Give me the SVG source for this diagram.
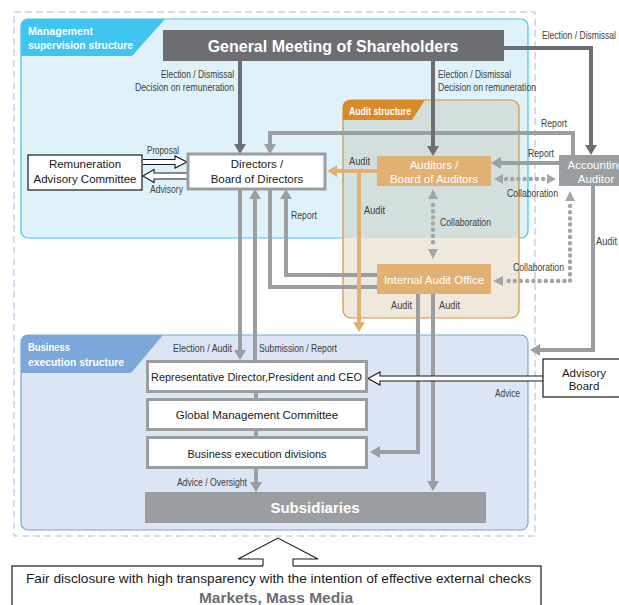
<svg xmlns="http://www.w3.org/2000/svg" width="619" height="605" viewBox="0 0 619 605">
<style>
.lb{font-family:"Liberation Sans",Arial,sans-serif;font-size:11px;fill:#3d3d3d}
.bt{font-family:"Liberation Sans",Arial,sans-serif;font-size:11.5px;fill:#1a1a1a;text-anchor:middle}
.wt{font-family:"Liberation Sans",Arial,sans-serif;font-size:11.5px;fill:#ffffff;text-anchor:middle}
.tab{font-family:"Liberation Sans",Arial,sans-serif;font-size:11.5px;font-weight:bold;fill:#ffffff}
.gbox{fill:#ffffff;stroke:#9a9ea1;stroke-width:3}
.kbox{fill:#ffffff;stroke:#1a1a1a;stroke-width:1.2}
.ob{fill:#e1b174}
.dk{fill:none;stroke:#6d6e71;stroke-width:4;marker-end:url(#mDark)}
.gr{fill:none;stroke:#9b9fa2;stroke-width:4}
.gra{marker-end:url(#mGray)}
.or{fill:none;stroke:#e1b174;stroke-width:4}
.ora{marker-end:url(#mOrange)}
.dot{fill:none;stroke:#a3a6a9;stroke-width:4.5;stroke-linecap:round;stroke-dasharray:0 6.2}
.tri{fill:#a3a6a9}
.hol{fill:#ffffff;stroke:#1a1a1a;stroke-width:1.1}
</style>
<defs>
<marker id="mDark" markerUnits="userSpaceOnUse" markerWidth="11" markerHeight="12" refX="1" refY="6" orient="auto"><path d="M0,0 L10,6 L0,12 Z" fill="#6d6e71"/></marker>
<marker id="mGray" markerUnits="userSpaceOnUse" markerWidth="11" markerHeight="12" refX="1" refY="6" orient="auto"><path d="M0,0 L10,6 L0,12 Z" fill="#9b9fa2"/></marker>
<marker id="mOrange" markerUnits="userSpaceOnUse" markerWidth="11" markerHeight="12" refX="1" refY="6" orient="auto"><path d="M0,0 L10,6 L0,12 Z" fill="#e1b174"/></marker>
</defs>
<rect width="619" height="605" fill="#ffffff"/>
<rect x="14" y="12" width="521" height="524" fill="none" stroke="#a9bce0" stroke-width="1" stroke-dasharray="7 4"/>

<g id="mgmt-structure">
<rect x="21" y="19" width="507" height="219" rx="7" fill="#dff2fa" stroke="#3cc4ef" stroke-width="1.2"/>
<path d="M21,56 V26 Q21,19 28,19 H165 L132,56 Z" fill="#40c4f0"/>
<text class="tab" x="28" y="35" textLength="65" lengthAdjust="spacingAndGlyphs">Management</text>
<text class="tab" x="28" y="49" textLength="105" lengthAdjust="spacingAndGlyphs">supervision structure</text>
</g>

<g id="audit-structure">
<rect x="343" y="100" width="176" height="218" rx="8" fill="#efe8dc"/>
<path d="M343,238 V108 Q343,100 351,100 H511 Q519,100 519,108 V238 Z" fill="#d3dfdc"/>
<rect x="343" y="100" width="176" height="218" rx="8" fill="none" stroke="#d6913d" stroke-width="1.2"/>
<path d="M343,120 V107 Q343,100 350,100 H425 L412,120 Z" fill="#d98b2b"/>
<text class="tab" x="349" y="115" style="font-size:10.5px" textLength="62" lengthAdjust="spacingAndGlyphs">Audit structure</text>
</g>

<g id="business-structure">
<rect x="21" y="335" width="507" height="195" rx="7" fill="#dbe5f3" stroke="#79a6dc" stroke-width="1.2"/>
<path d="M21,373 V342 Q21,335 28,335 H163 L131,373 Z" fill="#7ba7da"/>
<text class="tab" x="28" y="351" textLength="42" lengthAdjust="spacingAndGlyphs">Business</text>
<text class="tab" x="28" y="366" textLength="96" lengthAdjust="spacingAndGlyphs">execution structure</text>
</g>

<g id="connectors">
<path class="gr gra" d="M573,155 V133 H270 V145"/>
<path class="gr gra" d="M559,163 H500"/>
<path class="gr gra" d="M593,186 V350 H539"/>
<path class="gr gra" d="M377,275 H286 V198"/>
<path class="gr" d="M377,287 H270 V189"/>
<path class="gr gra" d="M240,189 V351"/>
<path class="gr gra" d="M255,361 V198"/>
<path class="gr" d="M256,392 V398 M256,430 V437"/>
<path class="gr gra" d="M256,468 V483"/>
<path class="gr gra" d="M418,294 V452 H379"/>
<path class="gr gra" d="M433,294 V482"/>
<path class="dk" d="M240,61 V145"/>
<path class="dk" d="M433,61 V147"/>
<path class="dk" d="M504,48 H591 V146"/>
<path class="or ora" d="M377,171 H336"/>
<path class="or ora" d="M359,171 V323"/>
<path class="dot" d="M506,179 H545"/>
<path class="tri" d="M494,179 L503,174 L503,184 Z M556,179 L547,174 L547,184 Z"/>
<path class="dot" d="M433,205 V244"/>
<path class="tri" d="M433,189 L428,199 L438,199 Z M433,259 L428,249 L438,249 Z"/>
<path class="dot" d="M570,206 V281 H507"/>
<path class="tri" d="M570,191 L565,201 L575,201 Z M493,281 L503,276 L503,286 Z"/>
<path class="hol" d="M143,159.5 H175 V156 L187,162 L175,168 V164.5 H143"/>
<path class="hol" d="M188,173 H154 V169.5 L143,176 L154,182.5 V179 H188"/>
<path class="hol" d="M543,376 H380 V372 L368,378.5 L380,385 V381 H543"/>
<text class="lb" x="161" y="78" textLength="73" lengthAdjust="spacingAndGlyphs">Election / Dismissal</text>
<text class="lb" x="135" y="91" textLength="99" lengthAdjust="spacingAndGlyphs">Decision on remuneration</text>
<text class="lb" x="438" y="78" textLength="73" lengthAdjust="spacingAndGlyphs">Election / Dismissal</text>
<text class="lb" x="438" y="91" textLength="98" lengthAdjust="spacingAndGlyphs">Decision on remuneration</text>
<text class="lb" x="542" y="39" textLength="74" lengthAdjust="spacingAndGlyphs">Election / Dismissal</text>
<text class="lb" x="541" y="127" textLength="26" lengthAdjust="spacingAndGlyphs">Report</text>
<text class="lb" x="528" y="157" textLength="26" lengthAdjust="spacingAndGlyphs">Report</text>
<text class="lb" x="507" y="197" textLength="51" lengthAdjust="spacingAndGlyphs">Collaboration</text>
<text class="lb" x="440" y="226" textLength="51" lengthAdjust="spacingAndGlyphs">Collaboration</text>
<text class="lb" x="513" y="271" textLength="51" lengthAdjust="spacingAndGlyphs">Collaboration</text>
<text class="lb" x="596" y="245" textLength="21" lengthAdjust="spacingAndGlyphs">Audit</text>
<text class="lb" x="349" y="165" textLength="21" lengthAdjust="spacingAndGlyphs">Audit</text>
<text class="lb" x="364" y="214" textLength="21" lengthAdjust="spacingAndGlyphs">Audit</text>
<text class="lb" x="291" y="219" textLength="26" lengthAdjust="spacingAndGlyphs">Report</text>
<text class="lb" x="147" y="154" textLength="32" lengthAdjust="spacingAndGlyphs">Proposal</text>
<text class="lb" x="150" y="193" textLength="33" lengthAdjust="spacingAndGlyphs">Advisory</text>
<text class="lb" x="391" y="309" textLength="21" lengthAdjust="spacingAndGlyphs">Audit</text>
<text class="lb" x="439" y="309" textLength="21" lengthAdjust="spacingAndGlyphs">Audit</text>
<text class="lb" x="173" y="352" textLength="59" lengthAdjust="spacingAndGlyphs">Election / Audit</text>
<text class="lb" x="259" y="352" textLength="78" lengthAdjust="spacingAndGlyphs">Submission / Report</text>
<text class="lb" x="495" y="397" textLength="25" lengthAdjust="spacingAndGlyphs">Advice</text>
<text class="lb" x="177" y="486" textLength="70" lengthAdjust="spacingAndGlyphs">Advice / Oversight</text>
</g>

<g id="gms">
<rect x="163" y="30" width="341" height="31" fill="#6d6e71"/>
<text x="333" y="52" text-anchor="middle" style="font-family:'Liberation Sans',Arial,sans-serif;font-size:16px;font-weight:bold;fill:#ffffff">General Meeting of Shareholders</text>
</g>
<g id="remuneration">
<rect class="kbox" x="28" y="155" width="114" height="35"/>
<text class="bt" x="85" y="168">Remuneration</text>
<text class="bt" x="85" y="183">Advisory Committee</text>
</g>
<g id="directors">
<rect class="gbox" x="188" y="154" width="137" height="35"/>
<text class="bt" x="257" y="168">Directors /</text>
<text class="bt" x="257" y="183">Board of Directors</text>
</g>
<g id="auditors">
<rect class="ob" x="377" y="156" width="114" height="30"/>
<text class="wt" x="434" y="169">Auditors /</text>
<text class="wt" x="434" y="183">Board of Auditors</text>
</g>
<g id="accounting-auditor">
<rect x="559" y="155" width="70" height="31" fill="#9b9ea1"/>
<text class="wt" x="596" y="169">Accounting</text>
<text class="wt" x="596" y="183">Auditor</text>
</g>
<g id="internal-audit-office">
<rect class="ob" x="377" y="264" width="114" height="30"/>
<text class="wt" x="434" y="284">Internal Audit Office</text>
</g>
<g id="rep-director">
<rect class="gbox" x="147.5" y="361.5" width="219" height="30"/>
<text class="bt" x="256.5" y="381" textLength="211" lengthAdjust="spacingAndGlyphs">Representative Director,President and CEO</text>
</g>
<g id="global-management-committee">
<rect class="gbox" x="147.5" y="399.5" width="219" height="30"/>
<text class="bt" x="257" y="419">Global Management Committee</text>
</g>
<g id="business-execution-divisions">
<rect class="gbox" x="147.5" y="437.5" width="219" height="30"/>
<text class="bt" x="257" y="458" textLength="139" lengthAdjust="spacingAndGlyphs">Business execution divisions</text>
</g>
<g id="subsidiaries">
<rect x="145" y="492" width="341" height="31" fill="#9b9ea1"/>
<text x="315" y="513" text-anchor="middle" style="font-family:'Liberation Sans',Arial,sans-serif;font-size:15px;font-weight:bold;fill:#ffffff">Subsidiaries</text>
</g>
<g id="advisory-board">
<rect class="kbox" x="543" y="359" width="90" height="38"/>
<text class="bt" x="584" y="377">Advisory</text>
<text class="bt" x="584" y="390">Board</text>
</g>
<g id="markets">
<rect class="kbox" x="12" y="566" width="529" height="50"/>
<path d="M263,567.5 V559 H238 L278,538 L318,559 H293 V567.5 Z" fill="#ffffff"/>
<path d="M263,566 V559 H238 L278,538 L318,559 H293 V566" fill="none" stroke="#1a1a1a" stroke-width="1.1"/>
<text class="bt" x="278.5" y="583" style="font-size:13px" textLength="505" lengthAdjust="spacingAndGlyphs">Fair disclosure with high transparency with the intention of effective external checks</text>
<text x="276" y="603" text-anchor="middle" style="font-family:'Liberation Sans',Arial,sans-serif;font-size:15.5px;font-weight:bold;fill:#6d6e71">Markets, Mass Media</text>
</g>
</svg>
